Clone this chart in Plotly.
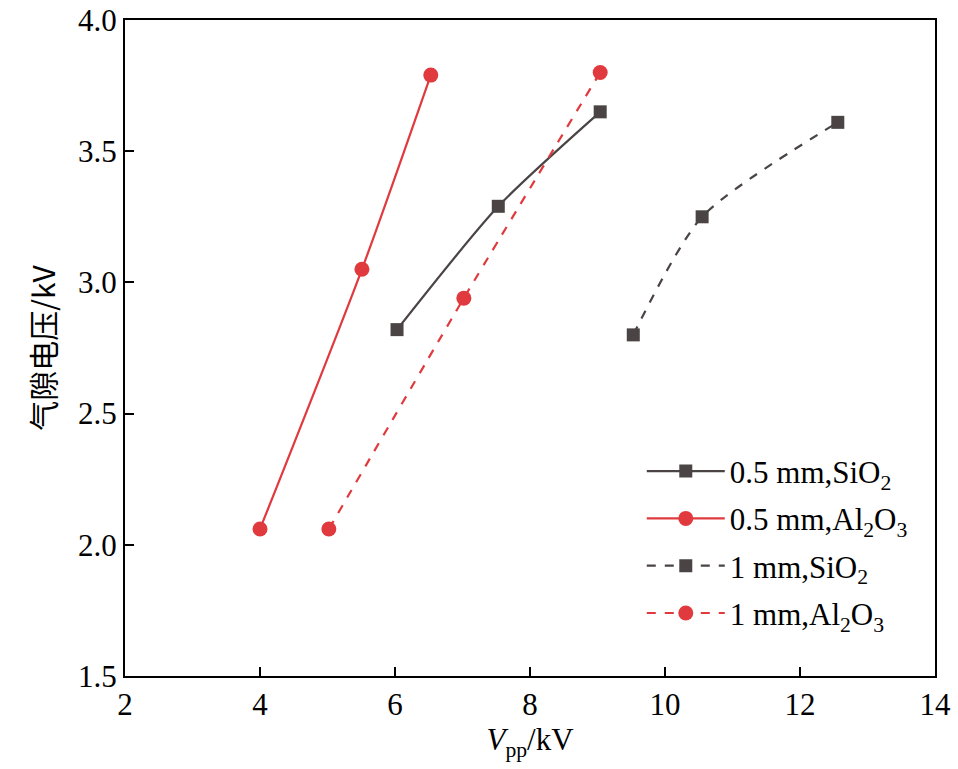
import plotly.graph_objects as go

x_05_sio2 = [6.03, 7.53, 9.04]
y_05_sio2 = [2.82, 3.29, 3.65]
x_05_al2o3 = [4.0, 5.51, 6.53]
y_05_al2o3 = [2.06, 3.05, 3.79]
x_1_sio2 = [9.53, 10.55, 12.56]
y_1_sio2 = [2.80, 3.25, 3.61]
x_1_al2o3 = [5.02, 7.02, 9.04]
y_1_al2o3 = [2.06, 2.94, 3.80]

names = ["0.5 mm,SiO<sub>2</sub>", "0.5 mm,Al<sub>2</sub>O<sub>3</sub>",
         "1 mm,SiO<sub>2</sub>", "1 mm,Al<sub>2</sub>O<sub>3</sub>"]

GRAY = "#4a4444"
RED = "#e03a3e"

fig = go.Figure()
series = [
    (x_05_sio2, y_05_sio2, names[0], GRAY, "square", "solid", 13),
    (x_05_al2o3, y_05_al2o3, names[1], RED, "circle", "solid", 15),
    (x_1_sio2, y_1_sio2, names[2], GRAY, "square", "dash", 13),
    (x_1_al2o3, y_1_al2o3, names[3], RED, "circle", "dash", 15),
]
for i, (xs, ys, nm, col, sym, dash, ms) in enumerate(series):
    fig.add_trace(go.Scatter(
        x=xs, y=ys, name=nm, mode="lines+markers", legendgroup=f"g{i}",
        line=dict(color=col, width=2.2, dash=dash, shape="spline", smoothing=0.7),
        marker=dict(color=col, symbol=sym, size=ms),
    ))

font_family = "Liberation Serif"
FS = 31
fig.update_layout(
    width=958, height=769,
    margin=dict(l=125, r=23, t=20, b=93),
    plot_bgcolor="white", paper_bgcolor="white",
    font=dict(family=font_family, size=FS, color="black"),
    showlegend=True,
    legend=dict(x=0.638, y=0.353, xanchor="left", yanchor="top",
                bgcolor="rgba(0,0,0,0)", font=dict(size=FS, family=font_family),
                itemwidth=78, tracegroupgap=4),
    xaxis=dict(range=[2, 14], tickvals=[2, 4, 6, 8, 10, 12, 14],
               ticks="inside", ticklen=9, tickwidth=1.5, tickcolor="black",
               showline=True, linecolor="black", linewidth=2, mirror=True,
               showgrid=False, zeroline=False, automargin=False,
               ticklabeloverflow="allow",
               tickfont=dict(size=FS, family=font_family),
               title=dict(text="<i>V</i><sub>pp</sub>/kV", font=dict(size=FS, family=font_family), standoff=6)),
    yaxis=dict(range=[1.5, 4.0], tickvals=[1.5, 2.0, 2.5, 3.0, 3.5, 4.0],
               ticktext=["1.5", "2.0", "2.5", "3.0", "3.5", "4.0"],
               ticks="inside", ticklen=9, tickwidth=1.5, tickcolor="black",
               showline=True, linecolor="black", linewidth=2, mirror=True,
               showgrid=False, zeroline=False, automargin=False,
               ticklabeloverflow="allow",
               tickfont=dict(size=FS, family=font_family),
               title=dict(text="气隙电压/kV", font=dict(size=30, family="Noto Sans CJK SC"), standoff=14)),
)

fig.write_html("out.html", config={"displayModeBar": False},
               post_script="document.body.style.margin='0px';document.body.style.overflow='hidden';")
